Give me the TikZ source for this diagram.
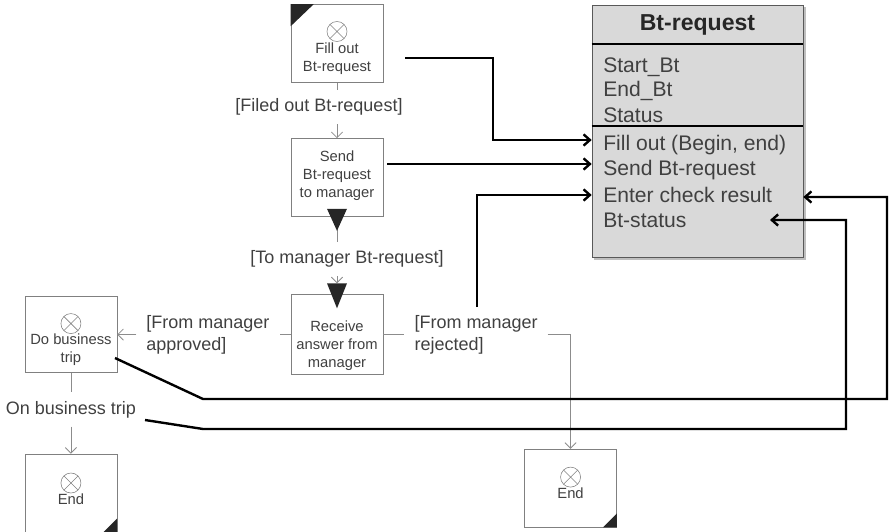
\documentclass[tikz,border=0pt]{standalone}
\usepackage{fontspec}
\setmainfont{Liberation Sans}
\usetikzlibrary{shapes,arrows.meta,positioning,calc}
\definecolor{txtgray}{HTML}{404040}
\definecolor{linegray}{HTML}{8C8C8C}
\definecolor{boxgray}{HTML}{808080}
\definecolor{clsfill}{HTML}{D9D9D9}
\definecolor{clsline}{HTML}{595959}
\definecolor{markgray}{HTML}{262626}
\tikzset{
    task/.style={
           rectangle,
           draw=boxgray, thin,
           minimum width=2.3cm,
           minimum height=1.95cm
           },
    tasktext/.style={
           align=center, text=txtgray,
           inner sep=0pt,
           font=\fontsize{10.5}{12.8}\selectfont
           },
    xor/.style={
           circle, draw=boxgray, thin,
           minimum size=0.5cm, inner sep=0pt,
           path picture={
             \draw[boxgray, thin]
               (path picture bounding box.north west) -- (path picture bounding box.south east)
               (path picture bounding box.north east) -- (path picture bounding box.south west);}
           },
    guard/.style={
           align=left, text=txtgray,
           inner xsep=7pt, inner ysep=6pt,
           font=\fontsize{12.8}{15.6}\selectfont
           },
    clsbox/.style={
           rectangle,
           draw=clsline, thin, fill=clsfill,
           minimum width=5.275cm
           },
    clstext/.style={
           anchor=west, text=txtgray,
           inner sep=0pt,
           font=\fontsize{15}{18}\selectfont
           },
    flow/.style={
           draw=linegray, line width=0.6pt,
           >={Straight Barb[length=4pt,width=8pt]}
           },
    msg/.style={
           draw=black, line width=1.7pt,
           >={Straight Barb[length=4.5pt,width=8pt]}
           },
    corner/.style={fill=markgray}
}
\begin{document}
\begin{tikzpicture}[x=0.025cm, y=-0.025cm, on grid]
\useasboundingbox (0,0) rectangle (889,532);
% business object
\fill[black!25] (594,7) rectangle (806,260);
\node[clsbox, minimum height=0.975cm, text=markgray,
      font=\bfseries\fontsize{16.4}{18}\selectfont] (bthead) at (697.5,24.5) {Bt-request};
\node[clsbox, minimum height=2.05cm] (btattr) [below=1.5125cm of bthead] {};
\node[clsbox, minimum height=3.275cm] (btmeth) [below=2.6625cm of btattr] {};
\draw[black, line width=1.3pt] (bthead.south west) -- (bthead.south east);
\draw[black, line width=1.3pt] (btattr.south west) -- (btattr.south east);
\foreach \t [count=\i] in {Start\_Bt, End\_Bt, Status}
   \node[clstext] (attr\i) at (603,43+24*\i) {\t};
\foreach \t [count=\i] in {{Fill out (Begin, end)}, Send Bt-request, Enter check result, Bt-status}
   \node[clstext] (meth\i) at (603,120+25*\i) {\t};
% tasks
\node[task] (fill) at (337,43.5) {};
\node[task] (send) [below=3.35cm of fill] {};
\node[task, minimum height=2cm] (receive) [below=3.925cm of send] {};
\node[task, minimum height=1.9cm] (trip) [left=6.65cm of receive] {};
\node[task] (end1) [below=3.96cm of trip] {};
\node[task] (end2) [below right=3.8375cm and 5.8375cm of receive] {};
\node[xor] (fillx) [below=0.425cm of fill.north] {};
\node[xor] (tripx) [below=0.425cm of trip.north] {};
\node[xor] (end1x) [below=0.475cm of end1.north] {};
\node[xor] (end2x) [below=0.45cm of end2.north] {};
\node[tasktext] (filltxt) [below=0.375cm of fill] {Fill out\\Bt-request};
\node[tasktext] (sendtxt) [above=0.05cm of send] {Send\\Bt-request\\to manager};
\node[tasktext] (receivetxt) [below=0.275cm of receive] {Receive\\answer from\\manager};
\node[tasktext] (triptxt) [below=0.39cm of trip] {Do business\\trip};
\node[tasktext] (end1txt) [below=0.16cm of end1] {End};
\node[tasktext] (end2txt) [below=0.14cm of end2] {End};
% guards
\node[guard] (filedlab) [below left=1.5875cm and 0.45cm of fill] {[Filed out Bt-request]};
\node[guard] (tomgr) [below right=2.0375cm and 0.25cm of send] {[To manager Bt-request]};
\node[guard] (approved) [left=3.225cm of receive] {[From manager\\approved]};
\node[guard] (rejected) [right=3.475cm of receive] {[From manager\\rejected]};
\node[guard] (triplab) [below=1.875cm of trip] {On business trip};
% control flow
\draw[flow] (fill.south) -- (fill.south |- filedlab.north);
\draw[flow,->] (fill.south |- filedlab.south) -- (send.north);
\draw[flow] (send.south) -- (send.south |- tomgr.north);
\draw[flow,->] (send.south |- tomgr.south) -- ($(receive.north)+(0,-11)$);
\draw[flow] (receive.west) -- (approved.east);
\draw[flow,->] (approved.west) -- (trip.east);
\draw[flow] (receive.east) -- (rejected.west);
\draw[flow,->] (rejected.east) -| (end2.north);
\draw[flow] (trip.south) -- (triplab.north);
\draw[flow,->] (triplab.south) -- (end1.north);
% markers
\fill[corner] (fill.north west) -- ++(23,0) -- ++(-23,22) -- cycle;
\fill[corner] (end1.south east) -- ++(0,-14) -- ++(-14,14) -- cycle;
\fill[corner] (end2.south east) -- ++(0,-14) -- ++(-14,14) -- cycle;
\fill[corner] (send.south) ++(-10,-8) -- ++(20,0) -- ++(-10,22) -- cycle;
\fill[corner] (receive.north) ++(-10,-11) -- ++(20,0) -- ++(-10,25) -- cycle;
% object access
\coordinate (fillout) at (405,58);
\coordinate (fillbend) at (493,140);
\coordinate (sendout) at (387,164);
\coordinate (checkout) at (477,307);
\coordinate (tripout) at (115,358);
\coordinate (tripbend) at (203,399);
\coordinate (outerbend) at (887,197);
\coordinate (onout) at (145,420);
\coordinate (onbend) at (203,429);
\coordinate (innerbend) at (846,220);
\coordinate (statuspt) at (770,220);
\draw[msg,->] (fillout) -| (fillbend) -- (btmeth.west |- fillbend);
\draw[msg,->] (sendout) -- (btmeth.west |- sendout);
\draw[msg,->] (checkout) |- (btmeth.west |- meth3);
\draw[msg,->] (tripout) -- (tripbend) -| (outerbend) -- (btmeth.east |- outerbend);
\draw[msg,->] (onout) -- (onbend) -| (innerbend) -- (statuspt);
\end{tikzpicture}
\end{document}
